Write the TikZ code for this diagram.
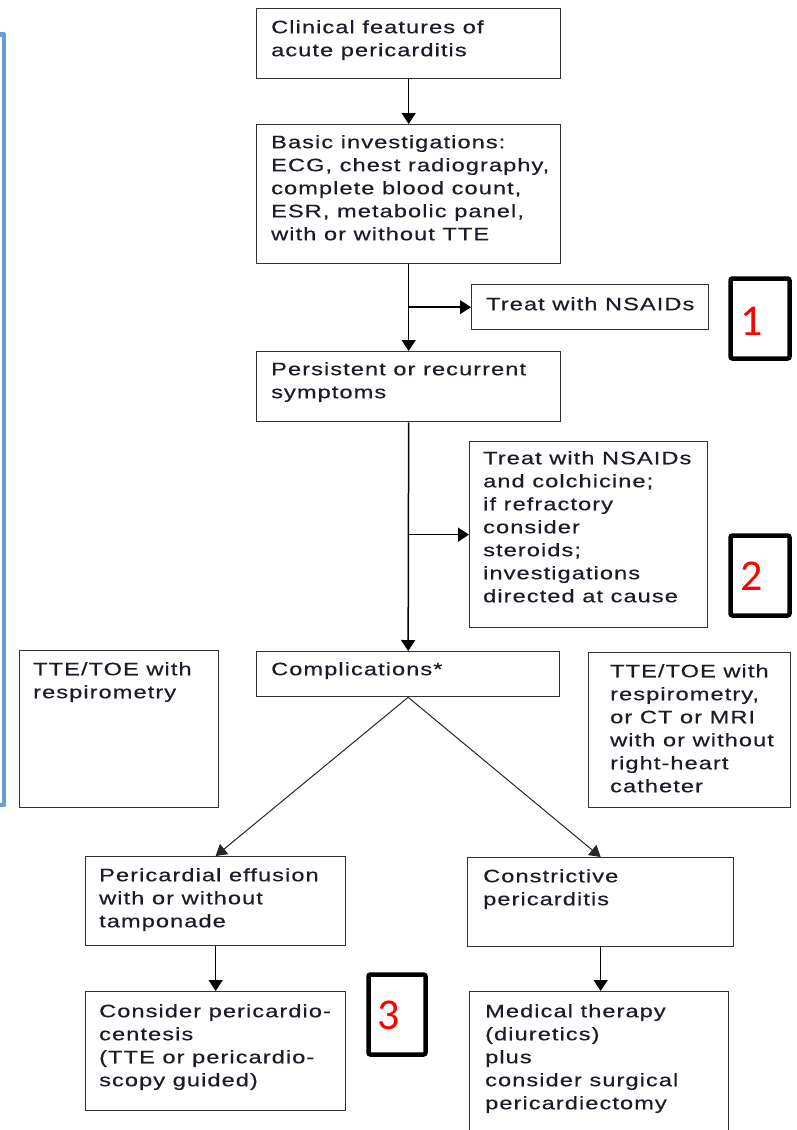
\documentclass[tikz,border=0pt]{standalone}
\usepackage{fontspec}
\usetikzlibrary{arrows.meta}
\newfontfamily\flowfont[FakeStretch=1.31,LetterSpace=6,FakeBold=0.4]{Liberation Sans}
\newfontfamily\tagfont{Carlito}
\definecolor{ink}{RGB}{28,28,40}
\definecolor{edge}{RGB}{50,50,50}
\definecolor{bracketblue}{RGB}{106,155,210}
\definecolor{tagred}{RGB}{255,0,0}
\tikzset{
  box/.style={draw=edge, line width=1.3pt, inner sep=0pt, anchor=north west, fill=white},
  txt/.style={anchor=north west, inner sep=0pt, align=left, text=ink,
              font={\flowfont\fontsize{18pt}{23pt}\selectfont}},
  arr/.style={draw=black, line width=1.5pt, -{Triangle[width=14pt,length=11pt]}},
  diag/.style={draw=black!85, line width=1pt, -{Triangle[width=13pt,length=11pt]}},
  tagbox/.style={draw=black, line width=4.5pt, rounded corners=2pt, inner sep=0pt},
  tagnum/.style={inner sep=0pt, text=tagred, font={\tagfont\fontsize{44pt}{44pt}\selectfont}}
}
\begin{document}
\begin{tikzpicture}[x=1pt,y=-1pt]
  \clip (0,0) rectangle (797,1130);
  \fill[white] (0,0) rectangle (797,1130);

  % bracket along the left edge
  \draw[bracketblue, line width=4.5pt, line join=round]
    (-10,34.5) -- (4,34.5) -- (4,805) -- (-10,805);

  % main column
  \node[box, minimum width=304pt, minimum height=70pt] (clin) at (256,8) {};
  \node[txt] (clinT) at ([shift={(15,12)}]clin.north west)
    {Clinical features of\\acute pericarditis};

  \node[box, minimum width=304pt, minimum height=139pt] (basic) at (256,124) {};
  \node[txt] (basicT) at ([shift={(15,11)}]basic.north west)
    {Basic investigations:\\ECG, chest radiography,\\complete blood count,\\ESR, metabolic panel,\\with or without TTE};

  \node[box, minimum width=237pt, minimum height=45pt] (treatA) at (471,284) {};
  \node[txt] (treatAT) at ([shift={(15,13)}]treatA.north west) {Treat with NSAIDs};

  \node[box, minimum width=304pt, minimum height=70pt] (pers) at (256,351) {};
  \node[txt] (persT) at ([shift={(15,11)}]pers.north west)
    {Persistent or recurrent\\symptoms};

  \node[box, minimum width=238pt, minimum height=186pt] (treatB) at (469,441) {};
  \node[txt] (treatBT) at ([shift={(14,10)}]treatB.north west)
    {Treat with NSAIDs\\and colchicine;\\if refractory\\consider\\steroids;\\investigations\\directed at cause};

  \node[box, minimum width=303pt, minimum height=45pt] (comp) at (256,651) {};
  \node[txt] (compT) at ([shift={(15,11)}]comp.north west) {Complications*};

  % imaging boxes at either side
  \node[box, minimum width=199pt, minimum height=157pt] (imgL) at (19,650) {};
  \node[txt] (imgLT) at ([shift={(14,12)}]imgL.north west)
    {TTE/TOE with\\respirometry};

  \node[box, minimum width=202pt, minimum height=155pt] (imgR) at (588,652) {};
  \node[txt] (imgRT) at ([shift={(22,12)}]imgR.north west)
    {TTE/TOE with\\respirometry,\\or CT or MRI\\with or without\\right-heart\\catheter};

  % left branch
  \node[box, minimum width=260pt, minimum height=89pt] (effu) at (85,856) {};
  \node[txt] (effuT) at ([shift={(14,12)}]effu.north west)
    {Pericardial effusion\\with or without\\tamponade};

  \node[box, minimum width=260pt, minimum height=119pt] (cent) at (85,991) {};
  \node[txt] (centT) at ([shift={(14,13)}]cent.north west)
    {Consider pericardio-\\centesis\\(TTE or pericardio-\\scopy guided)};

  % right branch
  \node[box, minimum width=266pt, minimum height=89pt] (constr) at (467,857) {};
  \node[txt] (constrT) at ([shift={(16,12)}]constr.north west)
    {Constrictive\\pericarditis};

  \node[box, minimum width=259pt, minimum height=170pt] (med) at (469,991) {};
  \node[txt] (medT) at ([shift={(16,13)}]med.north west)
    {Medical therapy\\(diuretics)\\plus\\consider surgical\\pericardiectomy};

  % connectors
  \draw[arr] (clin.south) -- (basic.north);
  \draw[arr] (basic.south) -- (pers.north);
  \draw[arr] (treatA.west -| basic.south) -- (treatA.west);
  \draw[arr] (pers.south) -- (comp.north);
  \draw[arr] (treatB.west -| pers.south) -- (treatB.west);
  \draw[diag] (comp.south) -- (effu.north);
  \draw[diag] (comp.south) -- (constr.north);
  \draw[arr] (effu.south) -- (cent.north);
  \draw[arr] (constr.south) -- (constr.south |- med.north);

  % numbered tags
  \node[tagbox, minimum width=59pt, minimum height=80pt] (tagA) at (760,318.5) {};
  \node[tagnum] (tagAN) at (752,321) {1};
  \node[tagbox, minimum width=59pt, minimum height=80pt] (tagB) at (760,575.5) {};
  \node[tagnum] (tagBN) at (752,576) {2};
  \node[tagbox, minimum width=57pt, minimum height=80pt] (tagC) at (397,1014.5) {};
  \node[tagnum] (tagCN) at (389,1015) {3};
\end{tikzpicture}
\end{document}
